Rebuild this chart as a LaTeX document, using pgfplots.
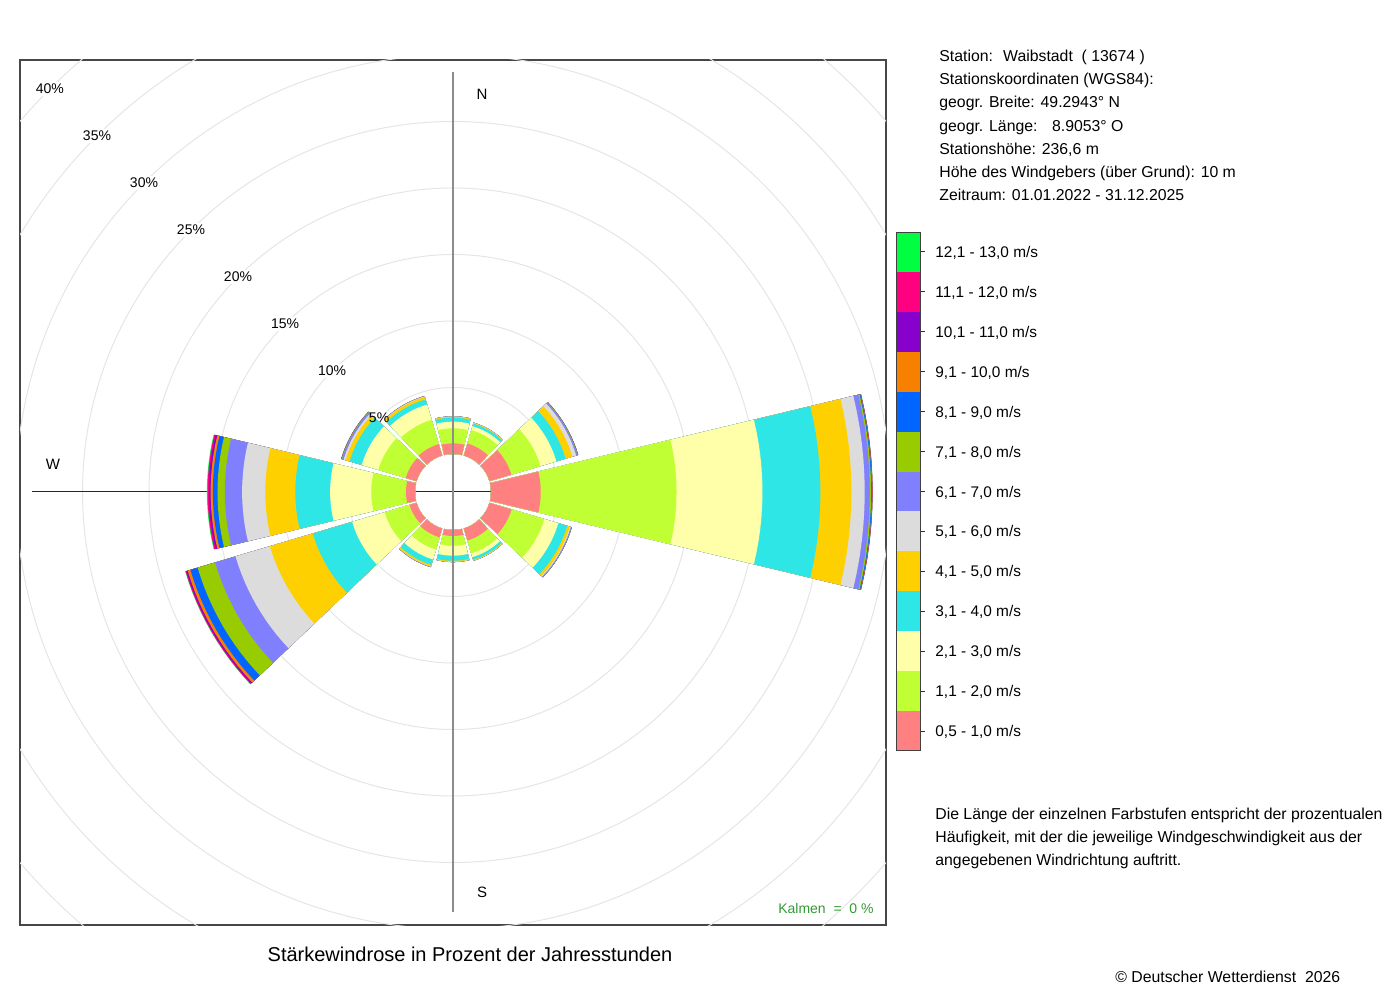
\documentclass[border=0pt]{standalone}
\usepackage{fontspec}
\setmainfont{Liberation Sans}
\usepackage{pgfplots}
\usepackage{pgfplotstable}
\pgfplotsset{compat=1.18}

\definecolor{wc1}{HTML}{FF8080}
\definecolor{wc2}{HTML}{C0FF33}
\definecolor{wc3}{HTML}{FFFFAA}
\definecolor{wc4}{HTML}{2EE6E6}
\definecolor{wc5}{HTML}{FFD000}
\definecolor{wc6}{HTML}{DCDCDC}
\definecolor{wc7}{HTML}{8080FF}
\definecolor{wc8}{HTML}{99CC00}
\definecolor{wc9}{HTML}{0066FF}
\definecolor{wc10}{HTML}{F88000}
\definecolor{wc11}{HTML}{8800CC}
\definecolor{wc12}{HTML}{FF0080}
\definecolor{wc13}{HTML}{00FF40}
\definecolor{kalm}{HTML}{339933}

% share of the year's hours (%) per direction and speed class
\pgfplotstableread{
dir b1   b2    b3   b4   b5   b6   b7   b8   b9   b10  b11  b12  b13
0   0.80 1.13  0.50 0.30 0.07 0.02 0.01 0    0    0    0    0    0
30  0.95 1.05  0.30 0.20 0.05 0.02 0.01 0    0    0    0    0    0
60  1.72 2.28  1.25 0.72 0.53 0.30 0.10 0.03 0.02 0.01 0    0    0
90  3.74 10.21 6.46 4.36 2.33 1.00 0.38 0.10 0.06 0.03 0.01 0.01 0.01
120 1.74 2.56  1.10 0.70 0.20 0.08 0.05 0.02 0.01 0    0    0    0
150 0.95 1.00  0.30 0.20 0.05 0.02 0.01 0    0    0    0    0    0
180 0.45 0.73  0.75 0.38 0.07 0.02 0.01 0    0    0    0    0    0
210 0.70 0.95  0.78 0.42 0.12 0.03 0.02 0.01 0    0    0    0    0
240 0.55 1.95  2.55 3.09 3.36 2.70 1.60 1.37 0.57 0.21 0.10 0.07 0.03
270 0.68 2.61  3.09 2.62 2.26 1.74 1.30 0.55 0.35 0.17 0.13 0.10 0.05
300 0.85 2.15  1.30 0.95 0.31 0.16 0.12 0.04 0.02 0.01 0    0    0
330 0.90 1.90  1.20 0.40 0.20 0.04 0.02 0.01 0    0    0    0    0
}\windtable

\newcommand\pctlabels[1]{%
  \node[#1] at (axis cs:-73.9,73.9) {5\%};
  \node[#1] at (axis cs:-120.9,120.9) {10\%};
  \node[#1] at (axis cs:-167.9,167.9) {15\%};
  \node[#1] at (axis cs:-215.0,215.0) {20\%};
  \node[#1] at (axis cs:-262.0,262.0) {25\%};
  \node[#1] at (axis cs:-309.0,309.0) {30\%};
  \node[#1] at (axis cs:-356.0,356.0) {35\%};
  \node[#1] at (axis cs:-403.1,403.1) {40\%};
}

\begin{document}
\begin{tikzpicture}[x=0.5pt,y=0.5pt]
\useasboundingbox (0,0) rectangle (1400,1000);
\begin{axis}[
  at={(20,75)}, anchor=south west,
  width=433pt, height=432.5pt, scale only axis,
  xmin=-433, xmax=433, ymin=-433, ymax=432,
  ticks=none,
  axis line style={draw=black!72, line width=0.55pt},
  clip=true,
]
% grid circles
\draw[gray!20, line width=0.5pt] (axis cs:0,0) circle[radius=52.25pt];
\draw[gray!20, line width=0.5pt] (axis cs:0,0) circle[radius=85.5pt];
\draw[gray!20, line width=0.5pt] (axis cs:0,0) circle[radius=118.75pt];
\draw[gray!20, line width=0.5pt] (axis cs:0,0) circle[radius=152pt];
\draw[gray!20, line width=0.5pt] (axis cs:0,0) circle[radius=185.25pt];
\draw[gray!20, line width=0.5pt] (axis cs:0,0) circle[radius=218.5pt];
\draw[gray!20, line width=0.5pt] (axis cs:0,0) circle[radius=251.75pt];
\draw[gray!20, line width=0.5pt] (axis cs:0,0) circle[radius=285pt];
\pctlabels{fill=white, text=white, inner sep=1pt, font=\fontsize{7}{8}\selectfont}
\draw[black!85, line width=0.5pt] (axis cs:-421,0) -- (axis cs:415,0);
% sectors
\pgfplotstablegetrowsof{\windtable}
\pgfmathtruncatemacro\nrows{\pgfplotsretval-1}
\foreach \row in {0,...,\nrows}{%
  \pgfplotstablegetelem{\row}{dir}\of\windtable
  \pgfmathsetmacro\midang{90-\pgfplotsretval}%
  \xdef\cumsum{0}%
  \foreach \i in {1,...,13}{%
    \pgfplotstablegetelem{\row}{[index]\i}\of\windtable
    \pgfmathsetmacro\cumval{\cumsum+\pgfplotsretval}%
    \xdef\cumsum{\cumval}%
    \expandafter\xdef\csname cum\i\endcsname{\cumval}%
  }%
  \foreach \i in {13,12,...,1}{%
    \pgfmathsetmacro\rr{38+13.3*\csname cum\i\endcsname}%
    \xdef\pts{}%
    \foreach \k in {0,...,12}{%
      \pgfmathsetmacro\ang{\midang-13.5+2.25*\k}%
      \pgfmathsetmacro\ptx{\rr*cos(\ang)}%
      \pgfmathsetmacro\pty{\rr*sin(\ang)}%
      \xdef\pts{\pts(\ptx,\pty)}%
    }%
    \foreach \k in {12,11,...,0}{%
      \pgfmathsetmacro\ang{\midang-13.5+2.25*\k}%
      \pgfmathsetmacro\ptx{38*cos(\ang)}%
      \pgfmathsetmacro\pty{38*sin(\ang)}%
      \xdef\pts{\pts(\ptx,\pty)}%
    }%
    \edef\temp{\noexpand\addplot[fill=wc\i, draw=none] coordinates {\pts};}%
    \temp
  }%
}
\draw[gray!90, line width=1pt] (axis cs:0,420) -- (axis cs:0,-420);
\pctlabels{inner sep=1pt, font=\fontsize{7}{8}\selectfont}
\node[font=\fontsize{7.5}{9}\selectfont] at (axis cs:29,398) {N};
\node[font=\fontsize{7.5}{9}\selectfont] at (axis cs:29,-400) {S};
\node[font=\fontsize{7.5}{9}\selectfont] at (axis cs:-400,28) {W};
\node[anchor=east, inner sep=0pt, text=kalm, font=\fontsize{7}{8}\selectfont] at (axis cs:421,-416) {Kalmen \ = \ 0 \%};
\end{axis}

% title and station information
\node[anchor=base, inner sep=0pt, font=\fontsize{10}{12}\selectfont] at (470,39) {Stärkewindrose in Prozent der Jahresstunden};
\begin{scope}[every node/.style={anchor=base west, inner sep=0pt, font=\fontsize{7.9}{9.5}\selectfont}]
\node at (939,938.5) {Station: \ Waibstadt \ ( 13674 )};
\node at (939,915.3) {Stationskoordinaten (WGS84):};
\node at (939,892.1) {geogr. Breite: 49.2943° N};
\node at (939,868.9) {geogr. Länge: \ \ 8.9053° O};
\node at (939,845.7) {Stationshöhe: 236,6 m};
\node at (939,822.5) {Höhe des Windgebers (über Grund): 10 m};
\node at (939,799.3) {Zeitraum: 01.01.2022 - 31.12.2025};
\node at (935,180) {Die Länge der einzelnen Farbstufen entspricht der prozentualen};
\node at (935,157) {Häufigkeit, mit der die jeweilige Windgeschwindigkeit aus der};
\node at (935,134) {angegebenen Windrichtung auftritt.};
\node at (1115,18) {© Deutscher Wetterdienst \ 2026};
\end{scope}

% colour key
\foreach \i in {1,...,13}{
  \fill[wc\i] (896,{249+(\i-1)*39.92}) rectangle (920,{249+\i*39.92});
  \draw[black!80, line width=0.5pt] (920,{249+(\i-0.5)*39.92}) -- (925,{249+(\i-0.5)*39.92});
}
\draw[black!75, line width=0.5pt] (896,249) rectangle (920,767.96);
\begin{scope}[every node/.style={anchor=base west, inner sep=0pt, font=\fontsize{7.7}{9}\selectfont}]
\node at (935,{249+0.5*39.92-5.5}) {0,5 - 1,0 m/s};
\node at (935,{249+1.5*39.92-5.5}) {1,1 - 2,0 m/s};
\node at (935,{249+2.5*39.92-5.5}) {2,1 - 3,0 m/s};
\node at (935,{249+3.5*39.92-5.5}) {3,1 - 4,0 m/s};
\node at (935,{249+4.5*39.92-5.5}) {4,1 - 5,0 m/s};
\node at (935,{249+5.5*39.92-5.5}) {5,1 - 6,0 m/s};
\node at (935,{249+6.5*39.92-5.5}) {6,1 - 7,0 m/s};
\node at (935,{249+7.5*39.92-5.5}) {7,1 - 8,0 m/s};
\node at (935,{249+8.5*39.92-5.5}) {8,1 - 9,0 m/s};
\node at (935,{249+9.5*39.92-5.5}) {9,1 - 10,0 m/s};
\node at (935,{249+10.5*39.92-5.5}) {10,1 - 11,0 m/s};
\node at (935,{249+11.5*39.92-5.5}) {11,1 - 12,0 m/s};
\node at (935,{249+12.5*39.92-5.5}) {12,1 - 13,0 m/s};
\end{scope}
\end{tikzpicture}
\end{document}
